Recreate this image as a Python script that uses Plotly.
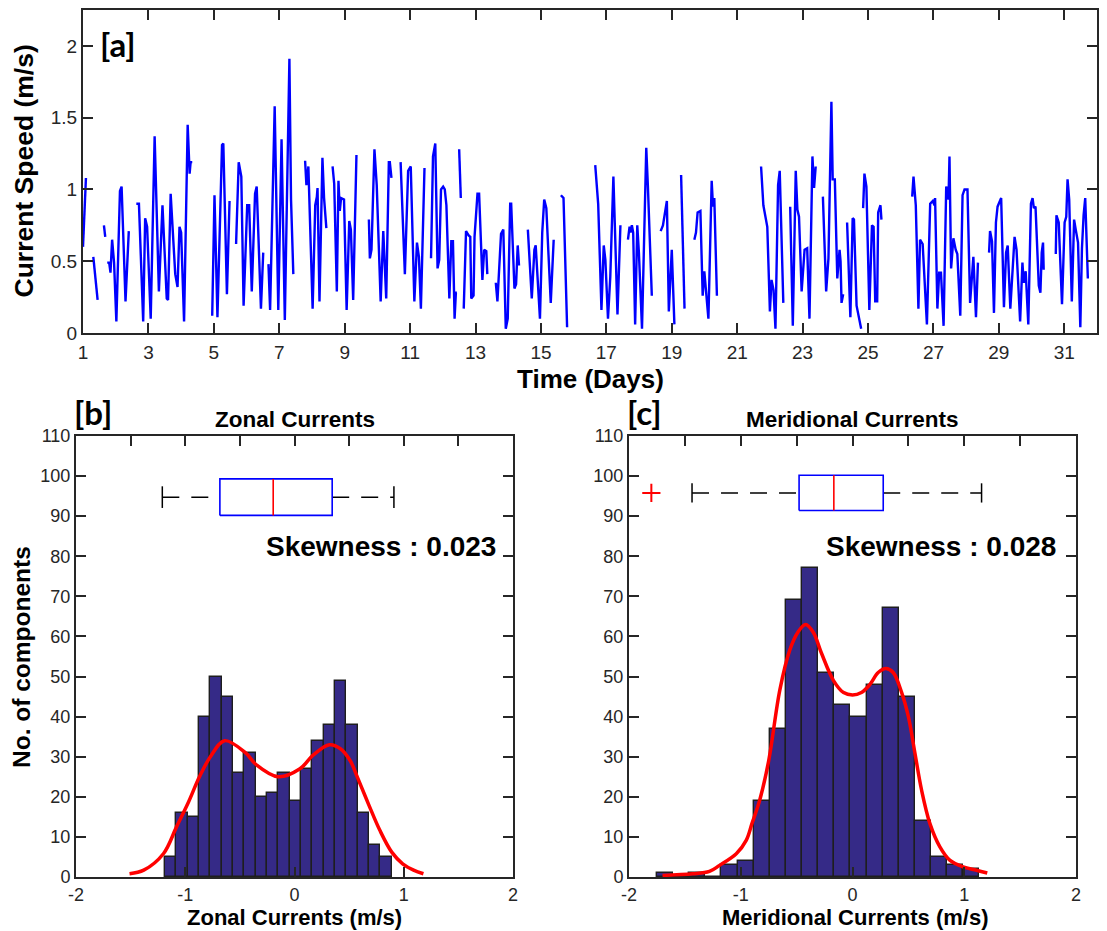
import plotly.graph_objects as go

W, H = 1107, 931

# ---------------- DATA ----------------
# [a] current speed time series (day, m/s); None marks gaps in the record
time_days = [
    1.00, 1.09, None,
    1.315, 1.447, None,
    1.64, 1.68, None,
    1.74, 1.80, 1.84, 1.89, 1.95, 2.02, 2.13, 2.18, 2.30, 2.40, None,
    2.63, 2.71, 2.84, 2.90, 2.96, 3.07, 3.19, 3.32, 3.43, 3.56, 3.60, 3.68, 3.82, 3.89, 3.95, 4.00, 4.09, 4.20, 4.26, 4.29, 4.34, None,
    4.95, 5.02, 5.11, 5.25, 5.29, 5.40, 5.48, None,
    5.68, 5.76, 5.84, 5.91, 6.02, 6.08, 6.16, 6.26, 6.31, 6.44, 6.51, None,
    6.67, 6.72, 6.86, 6.97, 7.07, 7.17, 7.31, 7.36, 7.43, None,
    7.79, 7.83, 7.89, 8.02, 8.10, 8.15, 8.17, 8.23, 8.32, 8.37, 8.44, None,
    8.63, 8.68, 8.76, 8.81, 8.85, 8.89, 8.98, 9.06, 9.14, 9.19, 9.26, 9.36, None,
    9.74, 9.77, 9.82, 9.91, 9.98, 10.10, 10.18, 10.27, 10.35, 10.38, 10.43, None,
    10.71, 10.84, 10.94, 11.02, 11.13, 11.21, 11.27, 11.33, 11.44, None,
    11.64, 11.70, 11.77, 11.84, 11.89, 11.945, 12.01, 12.06, 12.11, 12.20, 12.26, 12.31, 12.36, 12.40, 12.43, None,
    12.50, 12.55, None,
    12.64, 12.71, 12.79, 12.84, 12.87, 12.94, 12.97, 13.06, 13.11, 13.21, 13.265, 13.33, 13.36, None,
    13.62, 13.67, 13.78, 13.85, 13.925, 13.985, 14.06, 14.09, 14.19, 14.24, 14.29, 14.33, None,
    14.60, 14.72, 14.80, 14.84, 14.97, 15.04, 15.10, 15.165, 15.30, 15.39, None,
    15.61, 15.69, 15.80, None,
    16.66, 16.75, 16.85, 16.92, 16.97, 17.05, 17.12, 17.215, 17.34, 17.43, None,
    17.66, 17.71, 17.74, 17.78, 17.82, 17.88, 17.945, 17.995, 18.09, 18.22, 18.27, 18.39, None,
    18.66, 18.73, 18.85, 18.91, 19.00, 19.08, None,
    19.285, 19.39, None,
    19.69, 19.74, 19.79, 19.875, 19.945, 19.995, 20.12, 20.22, 20.26, 20.30, 20.38, None,
    21.73, 21.80, 21.92, 22.00, 22.05, 22.11, 22.17, 22.25, 22.30, 22.41, None,
    22.62, 22.70, 22.79, 22.84, 22.89, 22.97, 23.06, 23.14, 23.21, 23.30, 23.35, 23.40, None,
    23.62, 23.72, 23.79, 23.88, 23.92, 23.985, 24.06, 24.13, 24.16, 24.19, 24.24, None,
    24.36, 24.46, 24.53, 24.57, 24.65, 24.79, None,
    24.85, 24.89, 24.95, 25.04, 25.12, 25.17, 25.22, 25.28, 25.31, 25.38, 25.41, None,
    26.35, 26.39, 26.46, 26.54, 26.59, 26.67, 26.80, 26.90, 26.98, 27.03, 27.05, 27.12, 27.175, 27.23, 27.31,
    27.39, 27.46, 27.49, 27.54, 27.61, 27.68, 27.73, 27.82, 27.89, 27.95, 28.04, 28.12, 28.22, 28.30, 28.36, None,
    28.70, 28.73, 28.79, 28.85, 28.91, 28.96, 29.07, 29.155, 29.22, 29.27, 29.35, 29.42, 29.48, 29.54, 29.65,
    29.72, 29.76, 29.82, 29.90, 29.98, 30.03, 30.07, 30.12, 30.22, 30.27, 30.31, 30.35, 30.37, None,
    30.74, 30.76, 30.83, 30.93, 31.01, 31.06, 31.10, 31.15, 31.23, 31.30, 31.35, 31.42, 31.49, 31.54, 31.59, 31.64, 31.72,
]
speed = [
    0.60, 1.08, None,
    0.53, 0.23, None,
    0.75, 0.67, None,
    0.49, 0.49, 0.42, 0.65, 0.49, 0.08, 0.99, 1.02, 0.22, 0.71, None,
    0.90, 0.90, 0.08, 0.80, 0.74, 0.10, 1.37, 0.29, 0.89, 0.24, 0.23, 0.97, 0.41, 0.32, 0.74, 0.70, 0.08, 1.45, 1.11, 1.19, 1.19, None,
    0.12, 0.96, 0.11, 1.31, 1.32, 0.27, 0.92, None,
    0.62, 1.19, 1.09, 0.19, 0.89, 0.89, 0.29, 0.97, 1.02, 0.17, 0.56, None,
    0.48, 0.16, 1.58, 0.16, 1.35, 0.09, 1.91, 0.93, 0.41, None,
    1.20, 1.03, 1.16, 0.17, 0.89, 0.95, 1.01, 0.22, 1.22, 0.94, 0.73, None,
    1.16, 1.04, 0.29, 1.06, 0.85, 0.94, 0.93, 0.16, 0.78, 0.72, 0.23, 1.24, None,
    0.79, 0.52, 0.58, 1.28, 1.03, 0.22, 0.71, 0.24, 1.19, 1.19, 1.08, None,
    1.19, 0.41, 1.13, 1.16, 0.22, 0.63, 0.53, 0.17, 1.15, None,
    0.52, 1.23, 1.32, 0.45, 0.51, 1.00, 1.02, 1.00, 0.89, 0.24, 0.64, 0.64, 0.10, 0.28, 0.28, None,
    1.28, 0.94, None,
    0.17, 0.71, 0.68, 0.67, 0.24, 0.26, 0.67, 0.97, 0.97, 0.37, 0.58, 0.57, 0.41, None,
    0.35, 0.22, 0.69, 0.72, 0.03, 0.10, 0.90, 0.90, 0.31, 0.34, 0.61, 0.47, None,
    0.72, 0.24, 0.58, 0.61, 0.10, 0.70, 0.93, 0.87, 0.21, 0.65, None,
    0.96, 0.94, 0.04, None,
    1.17, 0.90, 0.16, 0.61, 0.51, 0.10, 0.39, 1.09, 0.13, 0.75, None,
    0.65, 0.74, 0.70, 0.75, 0.70, 0.06, 0.75, 0.56, 0.03, 1.29, 1.02, 0.26, None,
    0.71, 0.75, 0.92, 0.15, 0.58, 0.06, None,
    1.10, 0.17, None,
    0.65, 0.70, 0.84, 0.85, 0.26, 0.43, 0.10, 1.06, 0.88, 0.94, 0.26, None,
    1.16, 0.89, 0.74, 0.15, 0.37, 0.30, 0.03, 1.03, 1.13, 0.21, None,
    0.88, 0.05, 1.13, 0.86, 0.81, 0.29, 0.58, 0.59, 0.10, 1.23, 1.01, 1.16, None,
    0.95, 0.29, 0.52, 1.61, 1.07, 1.07, 0.38, 0.58, 0.50, 0.21, 0.27, None,
    0.77, 0.11, 0.80, 0.79, 0.19, 0.03, None,
    0.87, 1.11, 1.02, 0.16, 0.75, 0.74, 0.22, 0.22, 0.84, 0.89, 0.79, None,
    0.95, 1.09, 0.89, 0.17, 0.65, 0.62, 0.06, 0.90, 0.92, 0.89, 0.94, 0.17, 0.42, 0.42, 0.05,
    1.02, 0.93, 1.23, 0.45, 0.66, 0.58, 0.55, 0.12, 0.96, 1.00, 1.00, 0.21, 0.53, 0.11, 0.49, None,
    0.56, 0.71, 0.64, 0.14, 0.77, 0.88, 0.94, 0.18, 0.56, 0.61, 0.17, 0.43, 0.67, 0.58, 0.08,
    0.49, 0.35, 0.43, 0.06, 0.90, 0.94, 0.87, 0.88, 0.33, 0.28, 0.56, 0.63, 0.44, None,
    0.55, 0.82, 0.77, 0.20, 0.77, 0.81, 1.07, 0.93, 0.22, 0.79, 0.72, 0.63, 0.04, 0.59, 0.82, 0.94, 0.38,
]
day_ticks = [1, 3, 5, 7, 9, 11, 13, 15, 17, 19, 21, 23, 25, 27, 29, 31]
speed_ticks = [0, 0.5, 1, 1.5, 2]
speed_tick_text = ["0", "0.5", "1", "1.5", "2"]

# [b] zonal component histogram (20 bins)
zonal_bin_start = -1.186
zonal_bin_width = 0.1037
zonal_counts = [5, 16, 15, 40, 50, 45, 26, 31, 20, 21, 26, 19, 27, 34, 38, 49, 38, 16, 8, 5]
zonal_fit_x = [-1.51, -1.38, -1.20, -1.08, -0.97, -0.87, -0.77, -0.64, -0.45, -0.35, -0.15, 0.05,
               0.17, 0.32, 0.42, 0.51, 0.58, 0.68, 0.78, 0.89, 0.99, 1.09, 1.18]
zonal_fit_y = [0.8, 1.7, 5.8, 12.5, 18.7, 25, 30, 34, 31, 28, 25, 27,
               30.4, 33, 32, 29, 24.6, 18, 11.7, 6.2, 3.3, 1.7, 0.8]
# box stats: lower whisker, q1, median, q3, upper whisker
zonal_box = [-1.21, -0.683, -0.195, 0.345, 0.91]
zonal_outliers = []
zonal_skew = "Skewness : 0.023"

# [c] meridional component histogram (20 bins)
merid_bin_start = -1.75
merid_bin_width = 0.1443
merid_counts = [1, 0, 1, 0, 3, 4, 19, 37, 69, 77, 51, 43, 40, 48, 67, 45, 14, 5, 3, 2]
merid_fit_x = [-1.70, -1.43, -1.28, -1.19, -1.04, -0.95, -0.90, -0.83, -0.75, -0.65, -0.56, -0.49,
               -0.42, -0.35, -0.28, -0.17, -0.08, 0.0, 0.08, 0.155, 0.23, 0.30, 0.364, 0.44,
               0.50, 0.558, 0.618, 0.693, 0.782, 0.87, 0.99, 1.11, 1.206]
merid_fit_y = [0.4, 0.8, 1.4, 2.9, 5.8, 9.2, 13.3, 19.2, 29, 46.7, 56.7, 61,
               63, 61, 56, 49, 46, 45.4, 46, 48, 51, 52, 51, 46,
               40, 31, 21.7, 13.3, 7.5, 4.2, 2.5, 1.7, 1.0]
merid_box = [-1.436, -0.478, -0.167, 0.275, 1.155]
merid_outliers = [-1.80]
merid_skew = "Skewness : 0.028"

hist_xticks = [-2, -1, 0, 1, 2]
hist_xtick_text = ["-2", "-1", "0", "1", "2"]
hist_yticks = list(range(0, 111, 10))

# ---------------- STYLE ----------------
FONT = "Liberation Sans, Arial, Helvetica, sans-serif"
AX = "#262626"
BAR = "#352A87"


def px(x):
    return x / W


def py(y):
    return 1 - y / H


fig = go.Figure()

# [a] time series
fig.add_trace(go.Scatter(x=time_days, y=speed, mode="lines", connectgaps=False,
                         line=dict(color="#0000FF", width=2.4), xaxis="x", yaxis="y",
                         showlegend=False, hoverinfo="x+y"))


def add_hist_panel(xa, ya, xtop, start, width, counts, fx, fy, box, outl, yc, bh, ch):
    centers = [start + width * (i + 0.5) for i in range(len(counts))]
    fig.add_trace(go.Bar(x=centers, y=counts, width=width, xaxis=xa, yaxis=ya,
                         marker=dict(color=BAR, line=dict(color="#1e1e1e", width=1.4)),
                         showlegend=False))
    fig.add_trace(go.Scatter(x=fx, y=fy, mode="lines", xaxis=xa, yaxis=ya,
                             line=dict(color="#FF0000", width=3.5, shape="spline", smoothing=1.0),
                             showlegend=False))
    lw, q1, med, q3, uw = box
    dash = "17px,12px"
    fig.add_trace(go.Scatter(x=[lw, q1], y=[yc, yc], mode="lines", xaxis=xtop, yaxis=ya,
                             line=dict(color="black", width=1.5, dash=dash), showlegend=False))
    fig.add_trace(go.Scatter(x=[q3, uw], y=[yc, yc], mode="lines", xaxis=xtop, yaxis=ya,
                             line=dict(color="black", width=1.5, dash=dash), showlegend=False))
    for v in (lw, uw):
        fig.add_trace(go.Scatter(x=[v, v], y=[yc - ch, yc + ch], mode="lines", xaxis=xtop, yaxis=ya,
                                 line=dict(color="black", width=1.5), showlegend=False))
    fig.add_trace(go.Scatter(x=[q1, q3, q3, q1, q1], y=[yc - bh, yc - bh, yc + bh, yc + bh, yc - bh],
                             mode="lines", xaxis=xtop, yaxis=ya,
                             line=dict(color="#0000FF", width=1.6), showlegend=False))
    fig.add_trace(go.Scatter(x=[med, med], y=[yc - bh, yc + bh], mode="lines", xaxis=xtop, yaxis=ya,
                             line=dict(color="#FF0000", width=1.6), showlegend=False))
    if outl:
        fig.add_trace(go.Scatter(x=outl, y=[yc] * len(outl), mode="markers", xaxis=xtop, yaxis=ya,
                                 marker=dict(symbol="cross-thin", size=13,
                                             line=dict(color="#FF0000", width=2)),
                                 showlegend=False))


add_hist_panel("x2", "y2", "x4", zonal_bin_start, zonal_bin_width, zonal_counts,
               zonal_fit_x, zonal_fit_y, zonal_box, zonal_outliers, 94.75, 4.55, 2.7)
add_hist_panel("x3", "y3", "x5", merid_bin_start, merid_bin_width, merid_counts,
               merid_fit_x, merid_fit_y, merid_box, merid_outliers, 95.8, 4.4, 2.4)

common = dict(showgrid=False, zeroline=False, showline=True, linecolor=AX, linewidth=2,
              ticks="inside", ticklen=10, tickwidth=1.5, tickcolor=AX, automargin=False,
              tickfont=dict(family=FONT, size=18, color=AX))
big = {**common, "tickfont": dict(family=FONT, size=19, color=AX)}

top_dom_x = [px(83), px(1097)]
top_dom_y = [py(333), py(10)]
b_dom_x = [px(76), px(513)]
c_dom_x = [px(629), px(1076)]
h_dom_y = [py(877), py(436)]

layout = dict(
    width=W, height=H, margin=dict(l=0, r=0, t=0, b=0, pad=0, autoexpand=False),
    paper_bgcolor="white", plot_bgcolor="white", bargap=0,
    xaxis=dict(domain=top_dom_x, range=[1, 32], tickvals=day_ticks, mirror="ticks",
               anchor="y", ticklabelstandoff=1, **big),
    yaxis=dict(domain=top_dom_y, range=[0, 2.25], tickvals=speed_ticks, ticktext=speed_tick_text,
               mirror="ticks", anchor="x", **big),
    xaxis2=dict(domain=b_dom_x, range=[-2, 2], tickvals=hist_xticks, ticktext=hist_xtick_text,
                anchor="y2", mirror=False, ticklabelstandoff=0, **common),
    yaxis2=dict(domain=h_dom_y, range=[0, 110], tickvals=hist_yticks, anchor="x2", mirror="ticks", **common),
    xaxis3=dict(domain=c_dom_x, range=[-2, 2], tickvals=hist_xticks, ticktext=hist_xtick_text,
                anchor="y3", mirror=False, ticklabelstandoff=0, **common),
    yaxis3=dict(domain=h_dom_y, range=[0, 110], tickvals=hist_yticks, anchor="x3", mirror="ticks", **common),
    xaxis4=dict(overlaying="x2", side="top", anchor="y2", range=[-2, 2], dtick=0.5, tick0=-2,
                showticklabels=False, **common),
    xaxis5=dict(overlaying="x3", side="top", anchor="y3", range=[-2, 2], dtick=0.5, tick0=-2,
                showticklabels=False, **common),
)
fig.update_layout(**layout)

ann = []


def text(x, y, s, size, xref="paper", yref="paper", bold=True, family=FONT, angle=0, color="black"):
    ann.append(dict(x=x, y=y, xref=xref, yref=yref, text=s, showarrow=False, textangle=angle,
                    xanchor="center", yanchor="middle",
                    font=dict(family=family, size=size, color=color,
                              weight="bold" if bold else "normal")))


# panel labels
text(px(118), py(44), "[a]", 33, family="Lato, Open Sans, sans-serif")
text(px(93), py(412), "[b]", 33, family="Lato, Open Sans, sans-serif")
text(px(644), py(412), "[c]", 33, family="Lato, Open Sans, sans-serif")
# titles
text(px(294.5), py(419), "Zonal Currents", 22.5)
text(px(852.5), py(419), "Meridional Currents", 22.5)
# axis titles
text(px(23), py(171.5), "Current Speed (m/s)", 26.5, angle=-90)
text(px(590), py(379), "Time (Days)", 26)
text(px(21), py(657), "No. of components", 24.5, angle=-90)
text(px(294.5), py(917), "Zonal Currents (m/s)", 22)
text(px(855), py(917), "Meridional Currents (m/s)", 22)
# skewness
text(0.79, 82.5, zonal_skew, 28, xref="x2", yref="y2")
text(0.79, 82.5, merid_skew, 28, xref="x3", yref="y3")

fig.update_layout(annotations=ann)
fig.write_html("out.html", config={"displayModeBar": False},
               post_script="document.body.style.margin='0';")
